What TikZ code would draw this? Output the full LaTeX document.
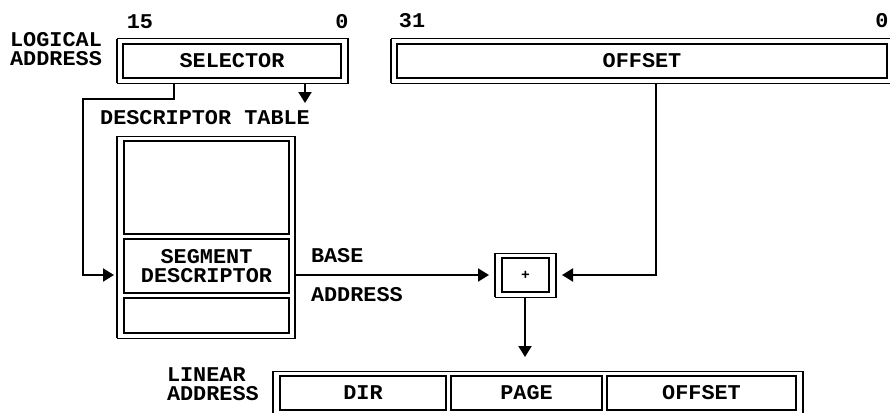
\documentclass[tikz,border=0pt]{standalone}
\usepackage{fontspec}
\newfontfamily\pixfont[FakeStretch=1.04]{Liberation Mono}
\usetikzlibrary{arrows.meta}
\begin{document}
\begin{tikzpicture}[x=1pt,y=-1pt,
  every node/.style={font=\pixfont\bfseries\fontsize{21}{19}\selectfont, inner sep=0pt, outer sep=0pt},
  outerbox/.style={draw, line width=1pt, rectangle},
  innerbox/.style={draw, line width=1.8pt, rectangle},
  vedge/.style={line width=2.6pt},
  conn/.style={line width=2pt, -{Triangle[length=11pt,width=13pt]}}
]
\useasboundingbox (0,0) rectangle (890,412);

% logical address
\node[align=center] (logl) at (56,49.5) {LOGICAL\\ADDRESS};
\node (b15) at (140,22) {15};
\node (b0a) at (342,22) {0};
\node (b31) at (412,21) {31};
\node (b0b) at (882,21) {0};

\node[outerbox, minimum width=231pt, minimum height=44pt] (selO) at (232.5,61) {};
\node[innerbox, minimum width=218pt, minimum height=34pt] (sel) at (232,61) {SELECTOR};

\node[outerbox, minimum width=503pt, minimum height=44pt] (offO) at (642.5,61) {};
\node[innerbox, minimum width=490pt, minimum height=34pt] (off) at (642,61) {OFFSET};

% descriptor table
\node (dtl) at (205,118) {DESCRIPTOR TABLE};
\node[outerbox, minimum width=178pt, minimum height=202pt] (tblO) at (206,237) {};
\node[innerbox, minimum width=165pt, minimum height=93pt] (dtop) at (206.5,187.5) {};
\node[innerbox, minimum width=165pt, minimum height=54pt, align=center] (seg) at (206.5,266) {SEGMENT\\DESCRIPTOR};
\node[innerbox, minimum width=165pt, minimum height=35pt] (dbot) at (206.5,315.5) {};

\node[anchor=west] (base) at (311,256) {BASE};
\node[anchor=west] (addr) at (311,295) {ADDRESS};

% adder
\node[outerbox, minimum width=61pt, minimum height=44pt] (plusO) at (525.5,275) {};
\node[innerbox, minimum width=47pt, minimum height=34pt, font=\pixfont\bfseries\fontsize{14}{14}\selectfont] (plus) at (525.5,275) {+};

% linear address
\node[align=left, anchor=west] (linl) at (167,384) {LINEAR\\ADDRESS};
\node[outerbox, minimum width=530pt, minimum height=43pt] (linO) at (538,392.5) {};
\node[innerbox, minimum width=166pt, minimum height=34pt] (dir) at (363,393) {DIR};
\node[innerbox, minimum width=151pt, minimum height=34pt] (page) at (526.5,393) {PAGE};
\node[innerbox, minimum width=189pt, minimum height=34pt] (loff) at (701.5,393) {OFFSET};

% thick side edges of outer frames
\foreach \n in {selO,offO,tblO,plusO,linO}{
  \draw[vedge] (\n.north west) -- (\n.south west) (\n.north east) -- (\n.south east);
}

% connectors
\coordinate (s1) at (174,99);
\coordinate (s2) at (83,99);
\coordinate (sa) at (114,275);
\draw[conn] (selO.south -| s1) -- (s1) -- (s2) |- (sa);

\coordinate (d1) at (305,103);
\draw[conn] (selO.south -| d1) -- (d1);

\coordinate (o1) at (656,275);
\draw[conn, shorten >=6pt] (offO.south -| o1) -- (o1) -- (plusO.east);

\draw[conn, shorten >=6pt] (tblO.east |- plusO.west) -- (plusO.west);

\coordinate (p1) at (525,357);
\draw[conn] (plusO.south -| p1) -- (p1);
\end{tikzpicture}
\end{document}
